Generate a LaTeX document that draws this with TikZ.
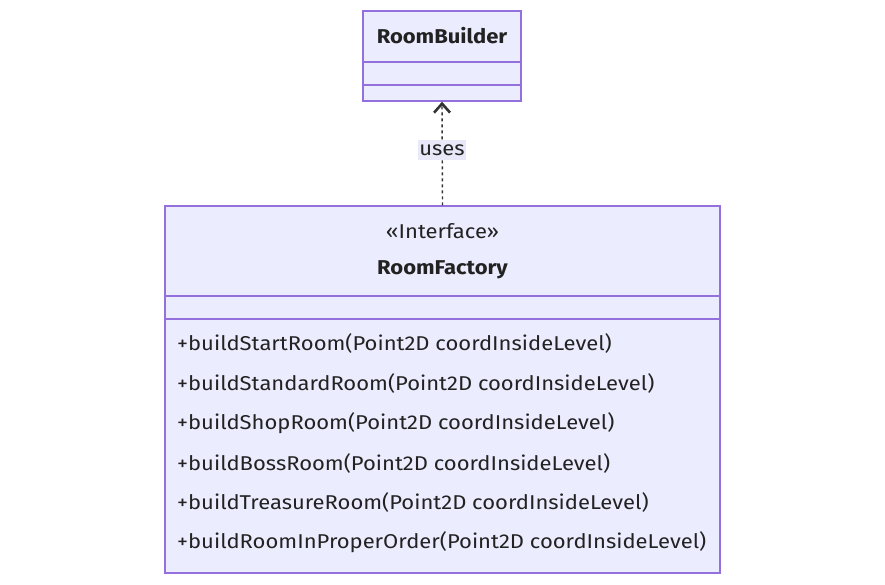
\documentclass[tikz,border=0pt]{standalone}
\usepackage{fontspec}
\setmainfont{Fira Sans}[FakeStretch=1.1]
\usetikzlibrary{arrows.meta}
\definecolor{boxfill}{HTML}{ECECFF}
\definecolor{boxline}{HTML}{9370DB}
\definecolor{txt}{HTML}{222222}
\definecolor{edge}{HTML}{333333}
\definecolor{lblbg}{HTML}{E8E8F8}
\tikzset{
  classbox/.style={draw=boxline, fill=boxfill, line width=1.4pt, inner sep=0pt},
  divider/.style={draw=boxline, line width=1.4pt},
  mtext/.style={text=txt, anchor=west, inner sep=0pt, font=\fontsize{20}{24}\selectfont},
  ttext/.style={text=txt, inner sep=0pt, font=\fontsize{20}{24}\selectfont\bfseries},
  stext/.style={text=txt, inner sep=0pt, font=\fontsize{20}{24}\selectfont},
  dep/.style={draw=edge, line width=1.4pt, dash pattern=on 3pt off 3pt, -{Straight Barb[length=9pt,width=16pt,line width=2.6pt]}},
  lbl/.style={fill=lblbg, text=txt, inner xsep=1pt, inner ysep=4pt, font=\fontsize{20}{24}\selectfont}
}
\begin{document}
\begin{tikzpicture}[x=1pt,y=-1pt]
\useasboundingbox (0,0) rectangle (885,585);
% RoomBuilder
\node[classbox, minimum width=158pt, minimum height=90pt] (rb) at (442,56) {};
\draw[divider] (363,62) -- (521,62);
\draw[divider] (363,85) -- (521,85);
\node[ttext] (rbt) at (442,36) {RoomBuilder};
% RoomFactory
\node[classbox, minimum width=555pt, minimum height=367pt] (rf) at (442.5,389.5) {};
\draw[divider] (165,296) -- (720,296);
\draw[divider] (165,319) -- (720,319);
\node[stext] (st) at (442.5,231) {«Interface»};
\node[ttext] (rft) at (442.5,270) {RoomFactory};
\node[mtext] (m1) at (177,343) {+buildStartRoom(Point2D coordInsideLevel)};
\node[mtext] (m2) at (177,383) {+buildStandardRoom(Point2D coordInsideLevel)};
\node[mtext] (m3) at (177,423) {+buildShopRoom(Point2D coordInsideLevel)};
\node[mtext] (m4) at (177,463) {+buildBossRoom(Point2D coordInsideLevel)};
\node[mtext] (m5) at (177,502) {+buildTreasureRoom(Point2D coordInsideLevel)};
\node[mtext] (m6) at (177,542) {+buildRoomInProperOrder(Point2D coordInsideLevel)};
% dependency
\draw[dep] (rf.north) -- (rb.south);
\node[lbl] (uses) at (442,150) {uses};
\end{tikzpicture}
\end{document}
